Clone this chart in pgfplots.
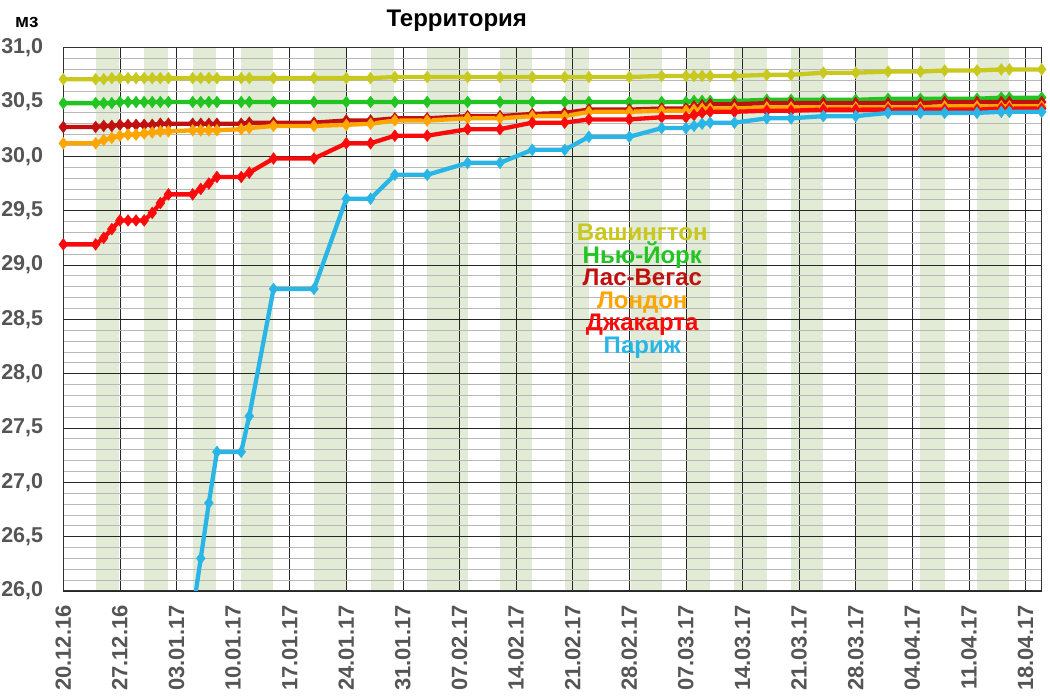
\documentclass[border=0pt]{standalone}
\usepackage{pgfplots}
\pgfplotsset{compat=1.18}
\usepackage{pgfplotstable}
\usepackage{fontspec}
\setmainfont{Liberation Sans}
\definecolor{cWash}{RGB}{200,200,30}
\definecolor{cNY}{RGB}{34,196,34}
\definecolor{cLV}{RGB}{192,16,16}
\definecolor{cLon}{RGB}{255,165,0}
\definecolor{cJak}{RGB}{250,10,10}
\definecolor{cPar}{RGB}{41,182,230}
\definecolor{bandgreen}{RGB}{226,235,214}
\definecolor{tickgray}{RGB}{85,85,85}

\pgfplotstableread{
day was ny lv lon jak par
0 30.71 30.49 30.27 30.12 29.19 nan
4 30.71 30.49 30.27 30.12 29.19 nan
5 30.71 30.49 30.28 30.15 29.25 nan
6 30.72 30.49 30.28 30.17 29.33 nan
7 30.72 30.50 30.29 30.19 29.41 nan
8 30.72 30.50 30.29 30.20 29.41 nan
9 30.72 30.50 30.29 30.20 29.41 nan
10 30.72 30.50 30.29 30.21 29.41 nan
11 30.72 30.50 30.29 30.22 29.48 nan
12 30.72 30.50 30.30 30.23 29.57 nan
13 30.72 30.50 30.30 30.23 29.65 nan
16 30.72 30.50 30.30 30.24 29.65 25.80
17 30.72 30.50 30.30 30.24 29.70 26.30
18 30.72 30.50 30.30 30.24 29.75 26.81
19 30.72 30.50 30.30 30.24 29.81 27.28
22 30.72 30.50 30.30 30.25 29.81 27.28
23 30.72 30.50 30.31 30.26 29.85 27.61
26 30.72 30.50 30.31 30.28 29.98 28.78
31 30.72 30.50 30.31 30.28 29.98 28.78
35 30.72 30.50 30.33 30.29 30.12 29.61
38 30.72 30.50 30.33 30.30 30.12 29.61
41 30.73 30.50 30.35 30.33 30.19 29.83
45 30.73 30.50 30.35 30.33 30.19 29.83
50 30.73 30.50 30.37 30.35 30.25 29.94
54 30.73 30.50 30.37 30.35 30.25 29.94
58 30.73 30.50 30.39 30.37 30.31 30.06
62 30.73 30.50 30.40 30.37 30.31 30.06
65 30.73 30.50 30.43 30.41 30.34 30.18
70 30.73 30.50 30.43 30.41 30.34 30.18
74 30.74 30.50 30.44 30.42 30.36 30.26
77 30.74 30.50 30.44 30.42 30.36 30.26
78 30.74 30.51 30.46 30.43 30.38 30.28
79 30.74 30.51 30.47 30.44 30.40 30.30
80 30.74 30.51 30.48 30.44 30.41 30.31
83 30.74 30.51 30.48 30.44 30.41 30.31
87 30.75 30.52 30.49 30.45 30.42 30.35
90 30.75 30.52 30.49 30.45 30.42 30.35
94 30.77 30.52 30.49 30.45 30.43 30.37
98 30.77 30.52 30.49 30.45 30.43 30.37
102 30.78 30.53 30.49 30.45 30.43 30.40
106 30.78 30.53 30.49 30.45 30.43 30.40
109 30.79 30.53 30.50 30.46 30.43 30.40
113 30.79 30.53 30.50 30.46 30.43 30.40
116 30.80 30.54 30.50 30.46 30.44 30.41
117 30.80 30.54 30.50 30.46 30.44 30.41
121 30.80 30.54 30.50 30.46 30.44 30.41
}\datatable

\pgfplotsset{band/.style={on layer=axis background, fill=bandgreen, draw=none, mark=none, line width=0pt}}

\begin{document}
\begin{tikzpicture}
\begin{axis}[
  set layers,
  scale only axis, width=978.4pt, height=543.3pt,
  at={(63.3pt,109pt)}, anchor=south west,
  xmin=0, xmax=121, ymin=26, ymax=31,
  xtick={0,7,14,21,28,35,42,49,56,63,70,77,84,91,98,105,112,119},
  xticklabels={20.12.16,27.12.16,03.01.17,10.01.17,17.01.17,24.01.17,31.01.17,07.02.17,14.02.17,21.02.17,28.02.17,07.03.17,14.03.17,21.03.17,28.03.17,04.04.17,11.04.17,18.04.17},
  ytick={26,26.5,27,27.5,28,28.5,29,29.5,30,30.5,31},
  minor y tick num=4,
  major tick length=0pt, minor tick length=0pt,
  xmajorgrids, ymajorgrids, yminorgrids,
  major grid style={draw=black!85, line width=0.8pt},
  minor grid style={draw=black!28, line width=0.8pt},
  axis line style={black!80, line width=1pt},
  y tick label style={font=\fontsize{21.5}{22}\selectfont\bfseries, text=tickgray,
     inner sep=0pt, anchor=east, xshift=-20pt,
     /pgf/number format/.cd, fixed, fixed zerofill, precision=1, use comma, assume math mode=true},
  x tick label style={font=\fontsize{22}{22}\selectfont\bfseries, text=tickgray,
     inner sep=0pt, yshift=-14pt, rotate=90, anchor=east},
  every axis plot/.append style={line width=4.3pt, mark=diamond*, mark size=6pt},
]
\addplot[band] coordinates {(4,26) (4,31) (6.9,31) (6.9,26)} --cycle;
\addplot[band] coordinates {(10,26) (10,31) (12.9,31) (12.9,26)} --cycle;
\addplot[band] coordinates {(16,26) (16,31) (18.9,31) (18.9,26)} --cycle;
\addplot[band] coordinates {(22,26) (22,31) (25.9,31) (25.9,26)} --cycle;
\addplot[band] coordinates {(31,26) (31,31) (34.9,31) (34.9,26)} --cycle;
\addplot[band] coordinates {(38,26) (38,31) (40.9,31) (40.9,26)} --cycle;
\addplot[band] coordinates {(45,26) (45,31) (50,31) (50,26)} --cycle;
\addplot[band] coordinates {(54,26) (54,31) (58,31) (58,26)} --cycle;
\addplot[band] coordinates {(62,26) (62,31) (65,31) (65,26)} --cycle;
\addplot[band] coordinates {(70.2,26) (70.2,31) (74,31) (74,26)} --cycle;
\addplot[band] coordinates {(77,26) (77,31) (80,31) (80,26)} --cycle;
\addplot[band] coordinates {(83,26) (83,31) (87,31) (87,26)} --cycle;
\addplot[band] coordinates {(90,26) (90,31) (94,31) (94,26)} --cycle;
\addplot[band] coordinates {(98,26) (98,31) (102,31) (102,26)} --cycle;
\addplot[band] coordinates {(106,26) (106,31) (109,31) (109,26)} --cycle;
\addplot[band] coordinates {(113,26) (113,31) (117,31) (117,26)} --cycle;

\addplot[cWash, mark options={line width=0.3pt, fill=cWash, draw=cWash}] table[x=day,y=was] {\datatable};
\addplot[cNY, mark options={line width=0.3pt, fill=cNY, draw=cNY}] table[x=day,y=ny] {\datatable};
\addplot[cLV, mark options={line width=0.3pt, fill=cLV, draw=cLV}] table[x=day,y=lv] {\datatable};
\addplot[cLon, mark options={line width=0.3pt, fill=cLon, draw=cLon}] table[x=day,y=lon] {\datatable};
\addplot[cJak, mark options={line width=0.3pt, fill=cJak, draw=cJak}] table[x=day,y=jak] {\datatable};
\addplot[cPar, mark options={line width=0.3pt, fill=cPar, draw=cPar}] table[x=day,y=par] {\datatable};

\node[align=center, font=\fontsize{24}{22.5}\selectfont\bfseries, inner sep=0pt] at (axis cs:71.6,28.76)
  {\textcolor{cWash}{Вашингтон}\\\textcolor{cNY}{Нью-Йорк}\\\textcolor{cLV}{Лас-Вегас}\\\textcolor{cLon}{Лондон}\\\textcolor{cJak}{Джакарта}\\\textcolor{cPar}{Париж}};
\end{axis}
\node[font=\fontsize{24}{24}\selectfont\bfseries, anchor=base] at (456.7pt,673.6pt) {Территория};
\node[font=\fontsize{19}{19}\selectfont\bfseries, anchor=base west, inner sep=0pt] at (15pt,672.7pt) {мз};
\pgfresetboundingbox
\path[use as bounding box] (0,0) rectangle (1050pt,700pt);
\end{tikzpicture}
\end{document}
